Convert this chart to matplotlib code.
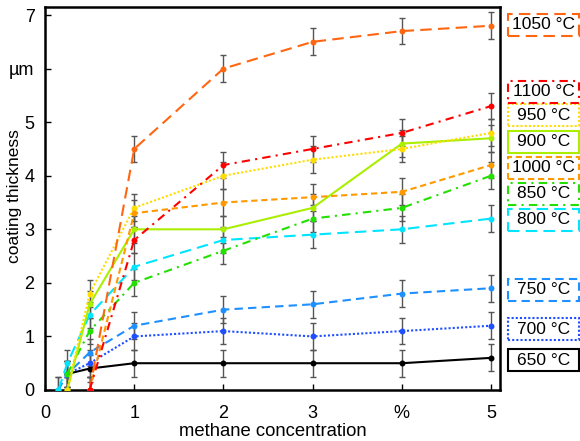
import matplotlib
matplotlib.use("Agg")
import matplotlib.pyplot as plt
from matplotlib.transforms import blended_transform_factory
from matplotlib.patches import Rectangle

plt.rcParams['font.family'] = ['Liberation Sans', 'DejaVu Sans']

# ---- data ----
labels = ['650 °C', '700 °C', '750 °C', '800 °C', '850 °C',
          '900 °C', '950 °C', '1000 °C', '1050 °C', '1100 °C']
x_650 = [0.25, 0.5, 1, 2, 3, 4, 5]
y_650 = [0.3, 0.4, 0.5, 0.5, 0.5, 0.5, 0.6]
x_700 = [0.25, 0.5, 1, 2, 3, 4, 5]
y_700 = [0.3, 0.5, 1.0, 1.1, 1.0, 1.1, 1.2]
x_750 = [0.15, 0.25, 0.5, 1, 2, 3, 4, 5]
y_750 = [0.0, 0.3, 0.7, 1.2, 1.5, 1.6, 1.8, 1.9]
x_800 = [0.15, 0.25, 0.5, 1, 2, 3, 4, 5]
y_800 = [0.0, 0.5, 1.4, 2.3, 2.8, 2.9, 3.0, 3.2]
x_850 = [0.25, 0.5, 1, 2, 3, 4, 5]
y_850 = [0.3, 1.1, 2.0, 2.6, 3.2, 3.4, 4.0]
x_900 = [0.25, 0.5, 1, 2, 3, 4, 5]
y_900 = [0.0, 1.6, 3.0, 3.0, 3.4, 4.6, 4.7]
x_950 = [0.25, 0.5, 1, 2, 3, 4, 5]
y_950 = [0.0, 1.8, 3.4, 4.0, 4.3, 4.5, 4.8]
x_1000 = [0.5, 1, 2, 3, 4, 5]
y_1000 = [0.0, 3.3, 3.5, 3.6, 3.7, 4.2]
x_1050 = [0.5, 1, 2, 3, 4, 5]
y_1050 = [0.0, 4.5, 6.0, 6.5, 6.7, 6.8]
x_1100 = [0.5, 1, 2, 3, 4, 5]
y_1100 = [0.0, 2.8, 4.2, 4.5, 4.8, 5.3]
err = 0.25
legend_y = [0.56, 1.13, 1.87, 3.18, 3.66, 4.63, 5.13, 4.15, 6.82, 5.57]

xticks = [0, 1, 2, 3, 4, 5]
xticklabels = ['0', '1', '2', '3', '%', '5']
yticks = [0, 1, 2, 3, 4, 5, 6, 7]
yticklabels = ['0', '1', '2', '3', '4', '5', 'µm', '7']

xs = [x_650, x_700, x_750, x_800, x_850, x_900, x_950, x_1000, x_1050, x_1100]
ys = [y_650, y_700, y_750, y_800, y_850, y_900, y_950, y_1000, y_1050, y_1100]

colors = ['#000000', '#1f4fff', '#1e90ff', '#00e5ff', '#22e000',
          '#aaee00', '#ffdd00', '#ff9900', '#ff6611', '#ff0000']
styles = ['-', (0, (1, 1)), (0, (4, 2.5)), (0, (5.5, 3)), (0, (4, 2.5, 1, 2.5)),
          '-', (0, (1, 1)), (0, (3, 1.8)), (0, (5.5, 3)), (0, (4, 2.5, 1, 2.5))]

fig = plt.figure(figsize=(5.8, 4.41), dpi=100)
ax = fig.add_axes([45/580, 1-390/441, 455/580, 383/441])

for x, y, c, ls in zip(xs, ys, colors, styles):
    ax.errorbar(x, y, yerr=err, fmt='none', ecolor='#555555', elinewidth=1,
                capsize=2.5, capthick=1, zorder=2)
    ax.plot(x, y, color=c, linestyle=ls, lw=1.5, marker='o', ms=4.3,
            markeredgewidth=0, zorder=3)

ax.set_xlim(0, 5.1)
ax.set_ylim(0, 7.15)
ax.set_xticks(xticks)
ax.set_xticklabels(xticklabels)
ax.set_yticks(yticks)
ax.set_yticklabels(yticklabels)
ax.tick_params(direction='in', length=4, width=1, labelsize=13,
               top=False, right=False)
ax.tick_params(axis='x', pad=10.5)
ax.tick_params(axis='y', pad=7.5)
for s in ax.spines.values():
    s.set_linewidth(1.8)
ax.set_xlabel('methane concentration', fontsize=13.3, va='center')
ax.xaxis.set_label_coords(0.5, -(431 - 390) / 383)
ax.set_ylabel('coating thickness', fontsize=12.5, va='center')
ax.yaxis.set_label_coords(-(45 - 15) / 455, 1 - (196 - 7) / 383)

# legend boxes to the right of the axes
tr = blended_transform_factory(fig.transFigure, ax.transData)
bw = 70/580
bh = 22/53.6
bx = 508.5/580
for lab, ly, c, ls in zip(labels, legend_y, colors, styles):
    r = Rectangle((bx, ly - bh/2), bw, bh, transform=tr, fill=False,
                  edgecolor=c, linestyle=ls, lw=1.5, clip_on=False)
    ax.add_patch(r)
    ax.text(bx + bw/2, ly, lab, transform=tr, ha='center', va='center',
            fontsize=12.5, clip_on=False)

fig.savefig('out.png', dpi=100)
